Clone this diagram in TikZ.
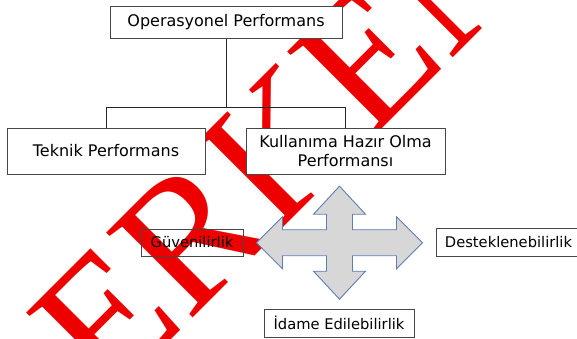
\documentclass[tikz,border=0pt]{standalone}
\usepackage{fontspec}
\usetikzlibrary{calc}
\setmainfont{DejaVu Sans}
\newfontfamily\wmfont{Liberation Serif}
\definecolor{wmred}{RGB}{238,0,0}
\definecolor{boxline}{RGB}{70,70,70}
\definecolor{crossfill}{RGB}{215,215,215}
\definecolor{crossline}{RGB}{95,125,180}
\tikzset{
  obox/.style={draw=boxline, line width=1pt, fill=white, inner sep=2pt, align=center,
    font=\fontsize{16}{19}\selectfont},
  sbox/.style={draw=boxline, line width=1pt, inner sep=2pt, align=center,
    font=\fontsize{14.7}{17}\selectfont},
  conn/.style={draw=black!85, line width=0.8pt},
}
\begin{document}
\begin{tikzpicture}[x=1pt,y=1pt]
\useasboundingbox (0,0) rectangle (577,338);
% watermark
\node[rotate=45, anchor=base west, inner sep=0, text=wmred,
  font=\wmfont\fontsize{185}{185}\selectfont] (wm) at (108,-65) {ERKEN};
% cross arrow
\coordinate (cc) at (339.5,95.3);
\draw[fill=crossfill, draw=crossline, line width=0.9pt, line join=miter]
  ($(cc)+(83,0)$) -- ++(-26,26) -- ++(0,-13) -- ++(-44,0) -- ++(0,15.5) -- ++(13,0)
  -- ++(-26,28) -- ++(-26,-28) -- ++(13,0) -- ++(0,-15.5) -- ++(-44,0) -- ++(0,13)
  -- ++(-26,-26) -- ++(26,-26) -- ++(0,13) -- ++(44,0) -- ++(0,-15.5) -- ++(-13,0)
  -- ++(26,-28) -- ++(26,28) -- ++(-13,0) -- ++(0,15.5) -- ++(44,0) -- ++(0,-13) -- cycle;
% boxes
\node[obox, minimum width=232pt, minimum height=32pt] (op) at (226,315.6) {Operasyonel Performans};
\node[obox, minimum width=198pt, minimum height=46pt] (tek) at (106,187) {Teknik Performans};
\node[obox, minimum width=199pt, minimum height=46pt] (kul) at (345.5,187) {Kullanıma Hazır Olma\\Performansı};
\node[sbox, minimum width=102pt, minimum height=27pt] (guv) at (192,95.5) {Güvenilirlik};
\node[sbox, fill=white, minimum width=145pt, minimum height=28pt] (des) at (508.5,95.5) {Desteklenebilirlik};
\node[sbox, fill=white, minimum width=150pt, minimum height=28pt] (ida) at (339,15) {İdame Edilebilirlik};
% connectors
\coordinate (bar) at (0,230.5);
\draw[conn] (op.south) -- (op.south |- bar);
\draw[conn] (tek.north) -- (tek.north |- bar) -| (kul.north);
\end{tikzpicture}
\end{document}
